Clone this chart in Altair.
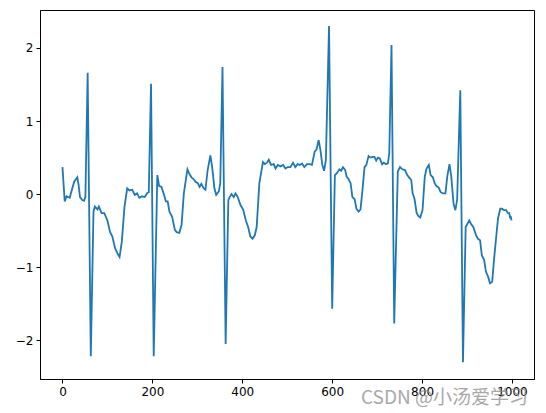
import altair as alt
import pandas as pd

# sample index and signal value
xs = [0, 5, 9, 16, 26, 33, 36, 39, 44, 48, 51, 56, 63, 69, 72, 78, 81, 87, 93, 100,
      106, 111, 117, 123, 127, 132, 138, 144, 149, 155, 161, 166, 171, 177, 183, 188, 192, 197, 203, 211,
      215, 220, 226, 230, 234, 238, 244, 250, 254, 260, 265, 270, 278, 282, 287, 291, 296, 301, 305, 309,
      314, 318, 323, 329, 333, 338, 342, 348, 351, 356, 363, 369, 372, 376, 381, 385, 390, 396, 402, 408,
      413, 418, 423, 428, 432, 438, 446, 450, 455, 459, 464, 470, 474, 479, 485, 491, 496, 501, 507, 513,
      518, 523, 528, 533, 538, 544, 550, 555, 561, 565, 570, 574, 578, 582, 586, 593, 600, 606, 611, 616,
      620, 624, 629, 632, 636, 641, 645, 650, 654, 659, 663, 667, 672, 676, 681, 685, 690, 694, 698, 702,
      706, 711, 715, 720, 724, 727, 732, 738, 746, 751, 756, 762, 767, 771, 776, 779, 783, 788, 792, 796,
      801, 806, 810, 815, 819, 824, 828, 832, 837, 841, 846, 852, 856, 861, 865, 870, 874, 878, 885, 891,
      897, 905, 909, 914, 920, 924, 929, 933, 938, 942, 947, 951, 956, 960, 965, 969, 974, 978, 982, 987,
      991, 994, 996, 997, 999]
ys = [0.37, -0.10, -0.03, -0.05, 0.17, 0.23, 0.12, -0.04, -0.08, -0.09, -0.04, 1.66, -2.22, -0.24, -0.17, -0.21, -0.17, -0.26, -0.26, -0.36,
      -0.52, -0.58, -0.74, -0.82, -0.86, -0.65, -0.17, 0.08, 0.05, 0.06, -0.01, 0.01, -0.05, -0.03, -0.04, 0.01, 0.03, 1.51, -2.22, 0.26,
      0.11, 0.10, -0.01, -0.10, -0.10, -0.24, -0.31, -0.49, -0.52, -0.53, -0.42, 0.01, 0.34, 0.28, 0.23, 0.21, 0.17, 0.15, 0.10, 0.14,
      0.08, 0.06, 0.33, 0.53, 0.37, 0.08, -0.01, 0.04, 0.15, 1.74, -2.05, -0.08, -0.04, 0.00, -0.04, 0.01, -0.04, -0.15, -0.21, -0.36,
      -0.45, -0.58, -0.61, -0.56, -0.45, 0.15, 0.44, 0.41, 0.43, 0.47, 0.40, 0.41, 0.35, 0.40, 0.38, 0.40, 0.35, 0.37, 0.37, 0.43,
      0.37, 0.41, 0.40, 0.42, 0.37, 0.41, 0.41, 0.40, 0.58, 0.61, 0.74, 0.60, 0.40, 0.32, 0.47, 2.30, -1.57, 0.26, 0.29, 0.34,
      0.32, 0.37, 0.33, 0.24, 0.21, 0.15, -0.04, -0.07, -0.20, -0.24, -0.21, 0.03, 0.37, 0.40, 0.52, 0.50, 0.51, 0.51, 0.46, 0.50,
      0.49, 0.41, 0.43, 0.41, 0.42, 0.56, 2.04, -1.77, 0.31, 0.37, 0.34, 0.33, 0.26, 0.23, 0.19, 0.01, -0.06, -0.26, -0.30, -0.32,
      -0.22, 0.24, 0.35, 0.40, 0.26, 0.23, 0.15, 0.11, 0.09, 0.03, 0.01, 0.01, 0.24, 0.41, 0.24, -0.13, -0.22, -0.08, 1.42, -2.30,
      -0.45, -0.36, -0.41, -0.45, -0.56, -0.61, -0.63, -0.84, -0.90, -1.06, -1.13, -1.22, -1.20, -0.90, -0.58, -0.33, -0.20, -0.20, -0.22, -0.22,
      -0.26, -0.26, -0.33, -0.30, -0.36]

x_ticks = [0, 200, 400, 600, 800, 1000]
y_ticks = [-2, -1, 0, 1, 2]
watermark = "CSDN @小汤爱学习"

df = pd.DataFrame({"x": xs, "y": ys})

W, H = 494, 369

line = alt.Chart(df).mark_line(color="#1f77b4", strokeWidth=1.8, clip=True).encode(
    x=alt.X("x:Q", scale=alt.Scale(domain=[-50, 1049], nice=False, zero=False),
            axis=alt.Axis(values=x_ticks, title=None, format="d")),
    y=alt.Y("y:Q", scale=alt.Scale(domain=[-2.53, 2.52], nice=False, zero=False),
            axis=alt.Axis(values=y_ticks, title=None, format="d",
                          labelExpr="replace(datum.label, '-', '−')")),
)

wm = alt.Chart(pd.DataFrame({"t": [watermark]})).mark_text(
    align="left", baseline="alphabetic", fontSize=19, font="Noto Sans CJK SC",
    color="#8c8c8c", opacity=0.75, clip=False
).encode(x=alt.value(321), y=alt.value(394), text="t:N")

chart = alt.layer(line, wm).properties(
    width=W, height=H,
    autosize=alt.AutoSizeParams(type="none"),
    padding={"left": 32, "top": 2, "right": 4, "bottom": 28},
).configure_view(stroke="black", strokeWidth=1).configure_axis(
    grid=False, domainColor="black", domainWidth=1, tickColor="black", tickSize=4,
    tickWidth=1, labelColor="black", labelFont="DejaVu Sans", labelFontSize=12, labelPadding=3,
)

chart.save("out.html", embed_options={"renderer": "svg", "actions": False})
